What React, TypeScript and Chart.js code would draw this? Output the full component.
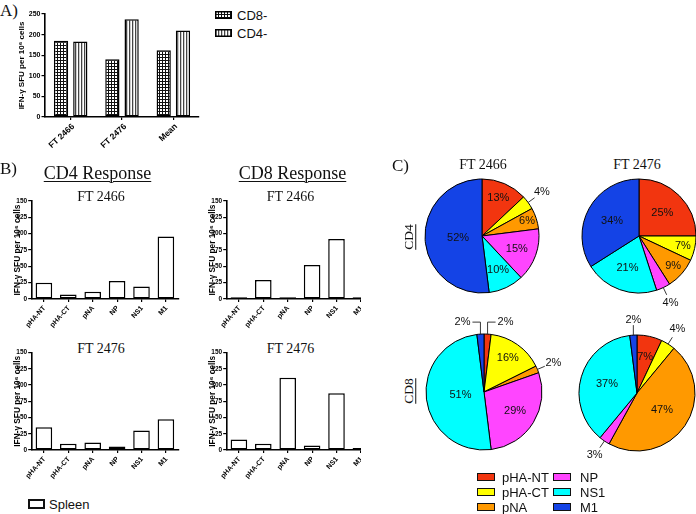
import React, { useEffect, useRef, useState } from "react";
import { Chart, registerables } from "chart.js";

Chart.register(...registerables);

// ---------------- DATA ----------------
const A_CATEGORIES = ["FT 2466", "FT 2476", "Mean"];
const A_CD8 = [185, 140, 162];
const A_CD4 = [183, 237, 210];
const A_SERIES = ["CD8-", "CD4-"];

const ANTIGENS = ["pHA-NT", "pHA-CT", "pNA", "NP", "NS1", "M1"];
const B_CD4_FT2466 = [25, 7, 11, 27.5, 19, 95.5];
const B_CD8_FT2466 = [2.5, 29, 2.5, 52, 92, 2.5];
const B_CD4_FT2476 = [35, 9.5, 11.5, 5.5, 30, 47.5];
const B_CD8_FT2476 = [16, 9.5, 111, 7, 87.5, 3];
const B_SERIES = "Spleen";

const PIE_COLORS = ["#f2350f", "#ffff00", "#ff9900", "#ff45ff", "#00ffff", "#1443e6"];
const PIE_CD4_FT2466 = [13, 4, 6, 15, 10, 52];
const PIE_CD4_FT2476 = [25, 7, 9, 4, 21, 34];
const PIE_CD8_FT2466 = [2, 16, 2, 29, 51, 2];
const PIE_CD8_FT2476 = [7, 4, 47, 3, 37, 2];

const Y_TITLE = "IFN-\u03b3 SFU per 10\u2076 cells";
const SANS = "'Liberation Sans', Arial, sans-serif";
const SERIF = "'Liberation Serif', 'Times New Roman', serif";

// ---------------- HELPERS ----------------
function makePattern(kind: string): any {
  if (kind === "white") return "#ffffff";
  const c = document.createElement("canvas");
  if (kind === "check") {
    c.width = 3;
    c.height = 3;
  } else {
    c.width = 3;
    c.height = 1;
  }
  const ctx = c.getContext("2d")!;
  if (kind === "check") {
    ctx.fillStyle = "#ffffff";
    ctx.fillRect(0, 0, 3, 3);
    ctx.fillStyle = "#111111";
    ctx.fillRect(0, 0, 3, 1);
    ctx.fillRect(0, 0, 1, 3);
  } else {
    ctx.fillStyle = "#ffffff";
    ctx.fillRect(0, 0, 3, 1);
    ctx.fillStyle = "#444444";
    ctx.fillRect(0, 0, 1, 1);
    ctx.fillStyle = "#cccccc";
    ctx.fillRect(1, 0, 1, 1);
  }
  return ctx.createPattern(c, "repeat") || "#888888";
}

type DS = { data: number[]; fill: string; label: string };

type BarProps = {
  left: number;
  top: number;
  width: number;
  height: number;
  clipWidth?: number;
  labels: string[];
  datasets: DS[];
  yMax: number;
  yStep: number;
  padTop: number;
  padLeft: number;
  padRight: number;
  yAxisWidth: number;
  xAxisHeight: number;
  tickFont: number;
  xTickFont: number;
  titleFont: number;
  titlePad: number;
  rotation: number;
  labDx: number;
  labDy: number;
  catPct: number;
  barPct: number;
  labelMode: string;
};

function BarChart(p: BarProps) {
  const ref = useRef<HTMLCanvasElement | null>(null);
  const [pos, setPos] = useState<{ x: number; y: number }[]>([]);
  useEffect(() => {
    if (!ref.current) return;
    const rad = (p.rotation * Math.PI) / 180;
    const xLabelPlugin = {
      id: "xLabels",
      afterDraw(chart: any) {
        if (p.labelMode !== "canvas") return;
        const sc = chart.scales.x;
        const ctx = chart.ctx as CanvasRenderingContext2D;
        ctx.save();
        ctx.font = `bold ${p.xTickFont}px ${SANS}`;
        ctx.fillStyle = "#000";
        ctx.textAlign = "right";
        ctx.textBaseline = "middle";
        p.labels.forEach((lab, i) => {
          const x = sc.getPixelForTick(i) + p.labDx;
          const y = sc.top + p.labDy;
          const c = Math.cos(rad);
          const s = Math.sin(rad);
          ctx.setTransform(c, -s, s, c, x, y);
          ctx.fillText(lab, 0, 0);
        });
        ctx.setTransform(1, 0, 0, 1, 0, 0);
        ctx.restore();
      },
    };
    const chart = new Chart(ref.current, {
      type: "bar",
      data: {
        labels: p.labels,
        datasets: p.datasets.map((d) => ({
          label: d.label,
          data: d.data,
          backgroundColor: makePattern(d.fill),
          borderColor: "#000",
          borderWidth: 1.5,
          borderSkipped: false,
          categoryPercentage: p.catPct,
          barPercentage: p.barPct,
        })),
      },
      options: {
        animation: false,
        responsive: false,
        maintainAspectRatio: false,
        devicePixelRatio: 1,
        layout: { padding: { top: p.padTop, left: p.padLeft, right: p.padRight, bottom: 0 } },
        plugins: { legend: { display: false }, tooltip: { enabled: false } },
        scales: {
          x: {
            grid: {
              display: true,
              drawOnChartArea: false,
              drawTicks: true,
              tickLength: 3,
              color: "#000",
              lineWidth: 1.2,
              offset: false,
            },
            border: { display: true, color: "#000", width: 1.6 },
            ticks: { display: false, autoSkip: false },
            afterFit: (s: any) => {
              s.height = p.xAxisHeight;
            },
          },
          y: {
            min: 0,
            max: p.yMax,
            grid: {
              display: true,
              drawOnChartArea: false,
              drawTicks: true,
              tickLength: 3.5,
              color: "#000",
              lineWidth: 1.2,
            },
            border: { display: true, color: "#000", width: 1.6 },
            ticks: {
              stepSize: p.yStep,
              color: "#000",
              font: { family: SANS, size: p.tickFont, weight: "bold" },
              padding: 1,
            },
            title: {
              display: true,
              text: Y_TITLE,
              color: "#000",
              font: { family: SANS, size: p.titleFont, weight: "bold" },
              padding: { top: p.titlePad, bottom: 0 },
            },
            afterFit: (s: any) => {
              s.width = p.yAxisWidth;
            },
          },
        },
      } as any,
      plugins: [xLabelPlugin],
    });
    if (p.labelMode === "html") {
      const sc: any = chart.scales.x;
      setPos(p.labels.map((_, i) => ({ x: sc.getPixelForTick(i) + p.labDx, y: sc.top + p.labDy })));
    }
    return () => chart.destroy();
  }, []);
  return (
    <div
      style={{
        position: "absolute",
        left: p.left,
        top: p.top,
        width: p.clipWidth ?? p.width,
        height: p.height,
        overflow: "hidden",
      }}
    >
      <canvas
        ref={ref}
        width={p.width}
        height={p.height}
        style={{ position: "absolute", left: 0, top: 0, width: p.width, height: p.height }}
      />
      {pos.map((q, i) => (
        <div
          key={i}
          style={{
            position: "absolute",
            left: q.x,
            top: q.y,
            width: 0,
            height: 0,
            transform: `rotate(${-p.rotation}deg)`,
            transformOrigin: "0 0",
          }}
        >
          <span
            style={{
              position: "absolute",
              right: 0,
              top: 0,
              transform: "translateY(-50%)",
              whiteSpace: "nowrap",
              fontFamily: SANS,
              fontWeight: "bold",
              fontSize: p.xTickFont,
              lineHeight: 1,
              color: "#000",
            }}
          >
            {p.labels[i]}
          </span>
        </div>
      ))}
    </div>
  );
}

type Spec = { r?: number; out?: string };

function PieChart({ cx, cy, radius, data, specs }: { cx: number; cy: number; radius: number; data: number[]; specs: Spec[] }) {
  const ref = useRef<HTMLCanvasElement | null>(null);
  const size = 190;
  useEffect(() => {
    if (!ref.current) return;
    const labelPlugin = {
      id: "pieLabels",
      afterDatasetsDraw(chart: any) {
        const ctx = chart.ctx as CanvasRenderingContext2D;
        const meta = chart.getDatasetMeta(0);
        ctx.save();
        ctx.font = `11px ${SANS}`;
        ctx.fillStyle = "#111";
        ctx.strokeStyle = "#222";
        ctx.lineWidth = 0.9;
        meta.data.forEach((arc: any, i: number) => {
          const { x, y, startAngle, endAngle, outerRadius } = arc.getProps(
            ["x", "y", "startAngle", "endAngle", "outerRadius"],
            true
          );
          const mid = (startAngle + endAngle) / 2;
          const dx = Math.cos(mid);
          const dy = Math.sin(mid);
          const text = data[i] + "%";
          const s = specs[i];
          const ex = x + dx * outerRadius;
          const ey = y + dy * outerRadius;
          if (s.r !== undefined) {
            ctx.textAlign = "center";
            ctx.textBaseline = "middle";
            ctx.fillText(text, x + dx * outerRadius * s.r, y + dy * outerRadius * s.r);
          } else if (s.out === "radial") {
            const r1 = outerRadius + 8;
            const rt = outerRadius * 1.3;
            ctx.beginPath();
            ctx.moveTo(ex, ey);
            ctx.lineTo(x + dx * r1, y + dy * r1);
            ctx.stroke();
            ctx.textAlign = "center";
            ctx.textBaseline = "middle";
            ctx.fillText(text, x + dx * rt, y + dy * rt);
          } else if (s.out === "elbow") {
            const sign = dx >= 0 ? 1 : -1;
            const ty = ey - 12;
            ctx.beginPath();
            ctx.moveTo(ex, ey);
            ctx.lineTo(ex, ty);
            ctx.lineTo(ex + sign * 8, ty);
            ctx.stroke();
            ctx.textAlign = sign > 0 ? "left" : "right";
            ctx.textBaseline = "middle";
            ctx.fillText(text, ex + sign * 10, ty);
          } else if (s.out === "up") {
            ctx.beginPath();
            ctx.moveTo(ex, ey);
            ctx.lineTo(ex, ey - 10);
            ctx.stroke();
            ctx.textAlign = "center";
            ctx.textBaseline = "middle";
            ctx.fillText(text, ex, ey - 15);
          }
        });
        ctx.restore();
      },
    };
    const chart = new Chart(ref.current, {
      type: "pie",
      data: {
        labels: ANTIGENS,
        datasets: [
          {
            data,
            backgroundColor: PIE_COLORS,
            borderColor: "#000",
            borderWidth: 1,
            radius,
          } as any,
        ],
      },
      options: {
        animation: false,
        responsive: false,
        maintainAspectRatio: false,
        devicePixelRatio: 1,
        layout: { padding: 0 },
        plugins: { legend: { display: false }, tooltip: { enabled: false } },
      } as any,
      plugins: [labelPlugin],
    });
    return () => chart.destroy();
  }, []);
  return (
    <canvas
      ref={ref}
      width={size}
      height={size}
      style={{ position: "absolute", left: cx - size / 2, top: cy - size / 2, width: size, height: size }}
    />
  );
}

function PatternBox({ left, top, w, h, kind }: { left: number; top: number; w: number; h: number; kind: string }) {
  const ref = useRef<HTMLCanvasElement | null>(null);
  useEffect(() => {
    const c = ref.current;
    if (!c) return;
    const ctx = c.getContext("2d")!;
    ctx.fillStyle = makePattern(kind);
    ctx.fillRect(0, 0, w, h);
    ctx.strokeStyle = "#000";
    ctx.lineWidth = 1.5;
    ctx.strokeRect(0.75, 0.75, w - 1.5, h - 1.5);
  }, []);
  return <canvas ref={ref} width={w} height={h} style={{ position: "absolute", left, top, width: w, height: h }} />;
}

function Txt({
  x,
  y,
  children,
  size,
  family = SERIF,
  align = "center",
  underline = false,
  rotate = 0,
}: {
  x: number;
  y: number;
  children: React.ReactNode;
  size: number;
  family?: string;
  align?: string;
  underline?: boolean;
  rotate?: number;
}) {
  const tx = align === "center" ? "-50%" : align === "left" ? "0" : "-100%";
  return (
    <div
      style={{
        position: "absolute",
        left: x,
        top: y,
        transform: `translate(${tx}, -50%) rotate(${rotate}deg)`,
        fontFamily: family,
        fontSize: size,
        lineHeight: 1,
        whiteSpace: "nowrap",
        color: "#111",
        textDecoration: underline ? "underline" : "none",
        textDecorationThickness: underline ? 1 : undefined,
        textUnderlineOffset: underline ? 2 : undefined,
      }}
    >
      {children}
    </div>
  );
}

export default function App() {
  const bCommon = {
    width: 182,
    height: 145,
    labels: ANTIGENS,
    yMax: 150,
    yStep: 25,
    padLeft: 10,
    padRight: 3.9,
    yAxisWidth: 21.7,
    xAxisHeight: 36,
    tickFont: 6.5,
    xTickFont: 7,
    titleFont: 8.3,
    titlePad: 2.5,
    rotation: 48,
    labDx: 0.5,
    labDy: 8,
    catPct: 1,
    barPct: 0.68,
    labelMode: "canvas",
  };
  return (
    <div
      style={{
        position: "absolute",
        left: 0,
        top: 0,
        width: 696,
        height: 514,
        overflow: "hidden",
        background: "#fff",
      }}
    >
      {/* Panel A */}
      <Txt x={0} y={10} size={17} align="left">A)</Txt>
      <BarChart
        left={0}
        top={0}
        width={205}
        height={150}
        labels={A_CATEGORIES}
        datasets={[
          { data: A_CD8, fill: "check", label: A_SERIES[0] },
          { data: A_CD4, fill: "stripe", label: A_SERIES[1] },
        ]}
        yMax={250}
        yStep={50}
        padTop={14}
        padLeft={13}
        padRight={6}
        yAxisWidth={32}
        xAxisHeight={33}
        tickFont={7}
        xTickFont={8.5}
        titleFont={8}
        titlePad={4.2}
        rotation={43}
        labDx={2.5}
        labDy={8}
        catPct={0.75}
        barPct={0.74}
        labelMode="html"
      />
      <PatternBox left={215} top={11} w={17} h={8} kind="check" />
      <PatternBox left={215} top={29} w={17} h={8} kind="stripe" />
      <Txt x={237} y={15} size={13} family={SANS} align="left">{A_SERIES[0]}</Txt>
      <Txt x={237} y={33} size={13} family={SANS} align="left">{A_SERIES[1]}</Txt>

      {/* Panel B */}
      <Txt x={0} y={167.5} size={17} align="left">B)</Txt>
      <Txt x={97.5} y={173} size={18} underline>CD4 Response</Txt>
      <Txt x={292.5} y={173} size={18} underline>CD8 Response</Txt>
      <Txt x={101} y={197} size={14}>FT 2466</Txt>
      <Txt x={290.5} y={197} size={14}>FT 2466</Txt>
      <Txt x={101} y={349} size={14}>FT 2476</Txt>
      <Txt x={290.5} y={349} size={14}>FT 2476</Txt>
      <BarChart {...bCommon} left={0} top={190} padTop={11}
        datasets={[{ data: B_CD4_FT2466, fill: "white", label: B_SERIES }]} />
      <BarChart {...bCommon} left={195} top={190} padTop={11} clipWidth={166}
        datasets={[{ data: B_CD8_FT2466, fill: "white", label: B_SERIES }]} />
      <BarChart {...bCommon} left={0} top={341} padTop={11.5}
        datasets={[{ data: B_CD4_FT2476, fill: "white", label: B_SERIES }]} />
      <BarChart {...bCommon} left={195} top={341} padTop={11.5} clipWidth={166}
        datasets={[{ data: B_CD8_FT2476, fill: "white", label: B_SERIES }]} />
      <div style={{ position: "absolute", left: 28, top: 499, width: 13, height: 6, border: "2px solid #111", background: "#fff" }} />
      <Txt x={49} y={504} size={13} family={SANS} align="left">{B_SERIES}</Txt>

      {/* Panel C */}
      <Txt x={392} y={165} size={17} align="left">C)</Txt>
      <Txt x={483} y={165} size={14}>FT 2466</Txt>
      <Txt x={637} y={165} size={14}>FT 2476</Txt>
      <Txt x={409} y={237} size={13.5} underline rotate={-90}>CD4</Txt>
      <Txt x={409} y={391} size={13.5} underline rotate={-90}>CD8</Txt>
      <PieChart cx={482} cy={236} radius={57} data={PIE_CD4_FT2466}
        specs={[{ r: 0.72 }, { out: "radial" }, { r: 0.83 }, { r: 0.65 }, { r: 0.66 }, { r: 0.42 }]} />
      <PieChart cx={639} cy={236} radius={57} data={PIE_CD4_FT2476}
        specs={[{ r: 0.58 }, { r: 0.79 }, { r: 0.8 }, { out: "radial" }, { r: 0.6 }, { r: 0.54 }]} />
      <PieChart cx={484} cy={391.5} radius={58} data={PIE_CD8_FT2466}
        specs={[{ out: "elbow" }, { r: 0.71 }, { out: "radial" }, { r: 0.63 }, { r: 0.41 }, { out: "elbow" }]} />
      <PieChart cx={637} cy={393} radius={58} data={PIE_CD8_FT2476}
        specs={[{ r: 0.64 }, { out: "radial" }, { r: 0.52 }, { out: "radial" }, { r: 0.54 }, { out: "up" }]} />
      {ANTIGENS.map((name, i) => {
        const col = Math.floor(i / 3);
        const row = i % 3;
        const bx = col === 0 ? 477 : 553;
        const tx = col === 0 ? 502 : 580;
        const cy = 477 + row * 15;
        return (
          <React.Fragment key={name}>
            <div
              style={{
                position: "absolute",
                left: bx,
                top: cy - 4,
                width: 16,
                height: 6,
                border: "1px solid #111",
                background: PIE_COLORS[i],
              }}
            />
            <Txt x={tx} y={cy} size={13} family={SANS} align="left">{name}</Txt>
          </React.Fragment>
        );
      })}
    </div>
  );
}
